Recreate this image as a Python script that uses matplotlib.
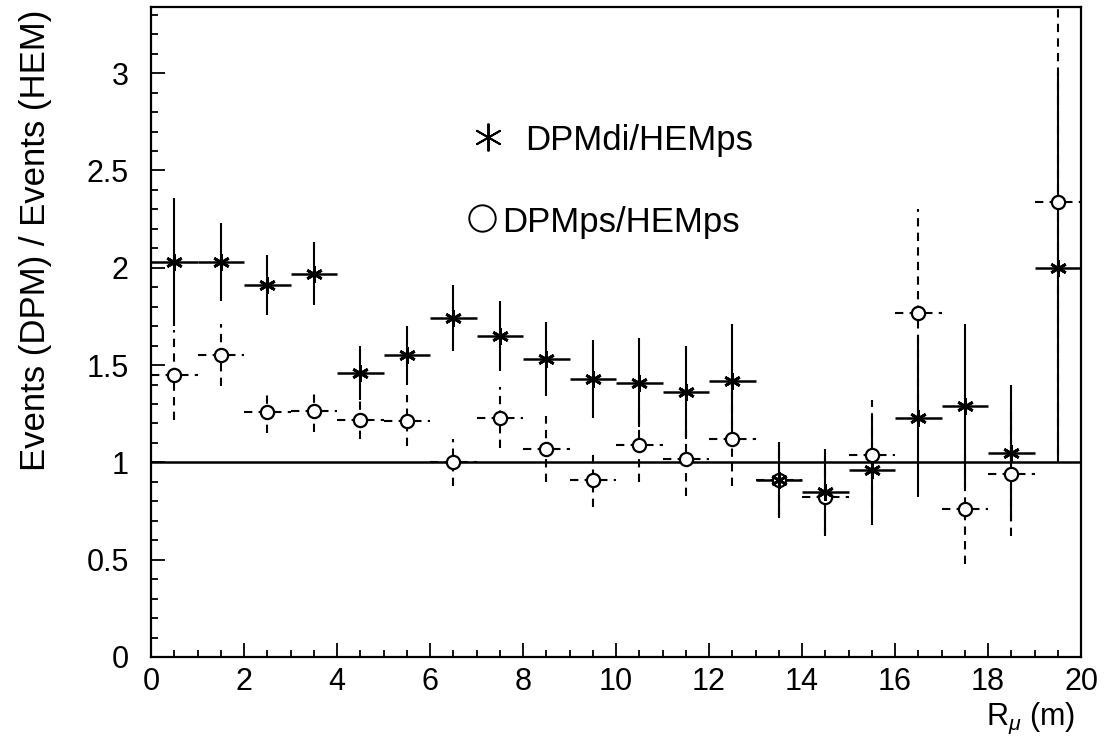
import numpy as np
import matplotlib
matplotlib.use("Agg")
import matplotlib.pyplot as plt
from matplotlib.ticker import MultipleLocator, FuncFormatter

plt.rcParams['font.family'] = ['Liberation Sans', 'DejaVu Sans']
plt.rcParams['mathtext.fontset'] = 'custom'
plt.rcParams['mathtext.rm'] = 'Liberation Sans'
plt.rcParams['mathtext.it'] = 'Liberation Sans:italic'

# Radial bins (1 m wide), centres
r_bins = [0.5, 1.5, 2.5, 3.5, 4.5, 5.5, 6.5, 7.5, 8.5, 9.5,
          10.5, 11.5, 12.5, 13.5, 14.5, 15.5, 16.5, 17.5, 18.5, 19.5]
bin_half = 0.5

# DPMdi / HEMps ratio and errors
di_ratio = [2.03, 2.03, 1.91, 1.97, 1.46, 1.55, 1.74, 1.65, 1.53, 1.43,
            1.41, 1.36, 1.42, 0.91, 0.85, 0.96, 1.23, 1.29, 1.05, 2.00]
di_err = [0.33, 0.20, 0.155, 0.16, 0.14, 0.15, 0.17, 0.18, 0.19, 0.20,
          0.23, 0.24, 0.29, 0.195, 0.22, 0.28, 0.41, 0.42, 0.35, 1.00]

# DPMps / HEMps ratio and errors
ps_ratio = [1.45, 1.55, 1.26, 1.265, 1.22, 1.215, 1.00, 1.23, 1.07, 0.91,
            1.09, 1.015, 1.12, 0.91, 0.82, 1.04, 1.77, 0.76, 0.94, 2.34]
ps_err = [0.23, 0.16, 0.11, 0.11, 0.10, 0.13, 0.12, 0.155, 0.17, 0.14,
          0.19, 0.19, 0.24, 0.19, 0.20, 0.28, 0.53, 0.28, 0.32, 1.30]

x = np.array(r_bins)
di = np.array(di_ratio)
die = np.array(di_err)
ps = np.array(ps_ratio)
pse = np.array(ps_err)

fig = plt.figure(figsize=(11.08, 7.43), dpi=100)
ax = fig.add_axes([151 / 1108, 86 / 743, 930 / 1108, 650 / 743])
ax.set_xlim(0, 20)
ax.set_ylim(0, 3.34)

# reference line at ratio = 1
ax.axhline(1.0, color='k', lw=1.8, zorder=2)

dash = (0, (4, 3))
# DPMps: dashed bars, open circles
ax.hlines(ps, x - bin_half, x + bin_half, colors='k', linestyles=dash, lw=1.5, zorder=3)
ax.vlines(x, ps - pse, ps + pse, colors='k', linestyles=dash, lw=1.5, zorder=3)
ax.plot(x, ps, ls='none', marker='o', ms=9.5, mfc='white', mec='k', mew=1.6, zorder=5)

# DPMdi: solid bars, asterisks
ax.hlines(di, x - bin_half, x + bin_half, colors='k', lw=1.8, zorder=4)
ax.vlines(x, di - die, di + die, colors='k', lw=1.5, zorder=4)
ax.plot(x, di, ls='none', marker=(6, 2, 0), ms=12, mec='k', mew=2.0, zorder=6)

# legend drawn by hand
ax.plot([0.3624], [0.800], transform=ax.transAxes, marker=(6, 2, 0), ms=20,
        mec='k', mew=1.4, ls='none')
ax.text(0.402, 0.780, 'DPMdi/HEMps', transform=ax.transAxes, fontsize=25,
        va='baseline', ha='left')
ax.plot([0.356], [0.675], transform=ax.transAxes, marker='o', ms=19,
        mfc='none', mec='k', mew=1.4, ls='none')
ax.text(0.378, 0.654, 'DPMps/HEMps', transform=ax.transAxes, fontsize=25,
        va='baseline', ha='left')

# axes, ticks
ax.xaxis.set_major_locator(MultipleLocator(2))
ax.xaxis.set_minor_locator(MultipleLocator(0.5))
ax.yaxis.set_major_locator(MultipleLocator(0.5))
ax.yaxis.set_minor_locator(MultipleLocator(0.1))
ax.yaxis.set_major_formatter(FuncFormatter(lambda v, p: '%g' % v))
ax.tick_params(which='both', direction='in', top=False, right=False, width=1.3)
ax.tick_params(which='major', length=10, labelsize=22)
ax.tick_params(which='minor', length=5)
ax.tick_params(axis='y', which='major', pad=16)
ax.tick_params(axis='x', which='major', pad=7)
for s in ax.spines.values():
    s.set_linewidth(1.6)

ax.text(-0.1237, 0.6415, 'Events (DPM) / Events (HEM)', transform=ax.transAxes,
        rotation=90, fontsize=25, ha='center', va='center')
ax.text(0.9935, -0.094, r'$\mathrm{R}_{\mu}$ (m)', transform=ax.transAxes,
        fontsize=22, ha='right', va='center')

fig.savefig('out.png', dpi=100)
